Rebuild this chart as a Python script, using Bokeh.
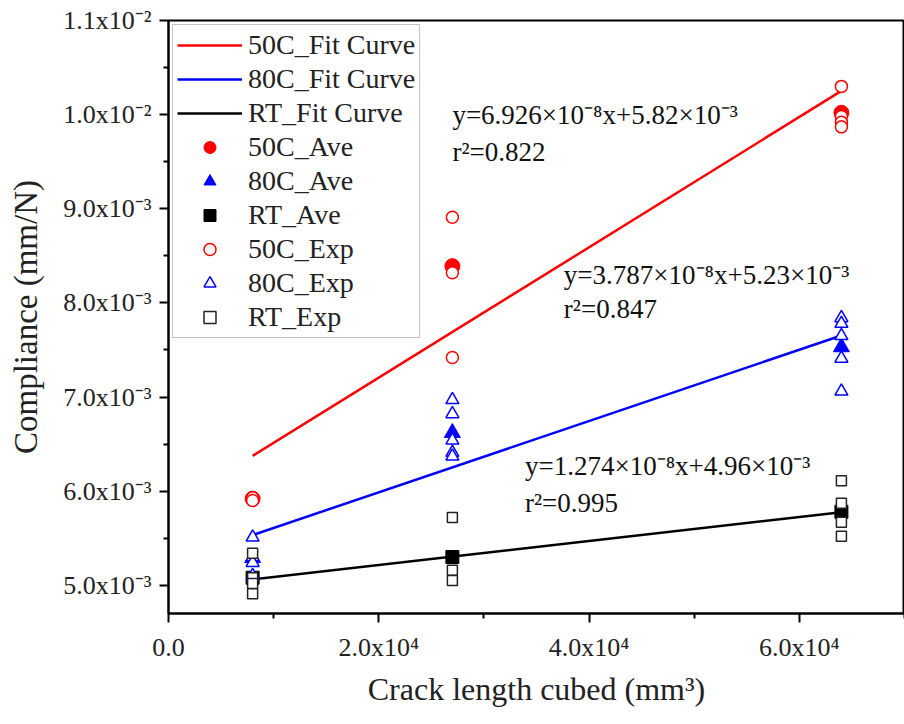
from bokeh.plotting import figure
from bokeh.models import FixedTicker, Legend, LegendItem
from bokeh.embed import file_html
from bokeh.resources import INLINE
from bokeh.core.properties import value

FONT = "Liberation Serif"

# crack length cubed (mm^3)
crack_x = [8000, 27000, 64000]

# averages (mm/N)
ave_50c = [5.92e-3, 8.39e-3, 10.02e-3]
ave_80c = [5.29e-3, 6.62e-3, 7.53e-3]
ave_rt = [5.08e-3, 5.30e-3, 5.78e-3]

# individual experiments
exp_50c_x = [8000, 8000, 27000, 27000, 27000, 64000, 64000, 64000, 64000]
exp_50c_y = [5.93e-3, 5.90e-3, 8.91e-3, 8.32e-3, 7.42e-3, 10.30e-3, 9.98e-3, 9.92e-3, 9.87e-3]
exp_80c_x = [8000, 8000, 8000, 8000, 27000, 27000, 27000, 27000, 27000, 64000, 64000, 64000, 64000, 64000]
exp_80c_y = [5.51e-3, 5.30e-3, 5.24e-3, 5.10e-3, 6.97e-3, 6.82e-3, 6.54e-3, 6.41e-3, 6.37e-3,
             7.84e-3, 7.78e-3, 7.65e-3, 7.41e-3, 7.06e-3]
exp_rt_x = [8000, 8000, 8000, 8000, 27000, 27000, 27000, 64000, 64000, 64000, 64000]
exp_rt_y = [5.34e-3, 5.08e-3, 5.02e-3, 4.91e-3, 5.72e-3, 5.16e-3, 5.05e-3, 6.11e-3, 5.87e-3, 5.67e-3, 5.52e-3]

# linear fits
fit_x = [8000, 64000]
fit_50c = (6.926e-8, 5.82e-3)
fit_80c = (3.787e-8, 5.23e-3)
fit_rt = (1.274e-8, 4.96e-3)

eq_texts = ["y=6.926×10⁻⁸x+5.82×10⁻³", "y=3.787×10⁻⁸x+5.23×10⁻³", "y=1.274×10⁻⁸x+4.96×10⁻³"]
r2_texts = ["r²=0.822", "r²=0.847", "r²=0.995"]

y_ticks = [5e-3, 6e-3, 7e-3, 8e-3, 9e-3, 1.0e-2, 1.1e-2]
y_minor = [5.5e-3, 6.5e-3, 7.5e-3, 8.5e-3, 9.5e-3, 10.5e-3]
y_tick_labels = ["5.0x10⁻³", "6.0x10⁻³", "7.0x10⁻³", "8.0x10⁻³", "9.0x10⁻³", "1.0x10⁻²", "1.1x10⁻²"]
x_ticks = [0, 20000, 40000, 60000]
x_minor = [10000, 30000, 50000, 70000]
x_tick_labels = ["0.0", "2.0x10⁴", "4.0x10⁴", "6.0x10⁴"]

p = figure(width=904, height=724, output_backend="svg", toolbar_location=None,
           x_range=(0, 70000), y_range=(4.7e-3, 1.1e-2),
           min_border_left=168, min_border_right=0, min_border_top=20, min_border_bottom=111)
p.background_fill_color = "white"
p.border_fill_color = "white"
p.grid.visible = False
p.outline_line_color = "black"
p.outline_line_width = 2

def line_fit(coef):
    return [coef[0] * x + coef[1] for x in fit_x]

l50 = p.line(fit_x, line_fit(fit_50c), line_color="#ff0000", line_width=2.5)
l80 = p.line(fit_x, line_fit(fit_80c), line_color="#0000ff", line_width=2.5)
lrt = p.line(fit_x, line_fit(fit_rt), line_color="black", line_width=2.5)

a50 = p.scatter(crack_x, ave_50c, marker="circle", size=15, fill_color="#ff0000", line_color="#ff0000")
a80 = p.scatter(crack_x, ave_80c, marker="triangle", size=16, fill_color="#0000ff", line_color="#0000ff")
art = p.scatter(crack_x, ave_rt, marker="square", size=13, fill_color="black", line_color="black")

e50 = p.scatter(exp_50c_x, exp_50c_y, marker="circle", size=12, fill_color="white",
                line_color="#ff0000", line_width=1.5)
e80 = p.scatter(exp_80c_x, exp_80c_y, marker="triangle", size=13, fill_color="white",
                line_color="#0000ff", line_width=1.5)
ert = p.scatter(exp_rt_x, exp_rt_y, marker="square", size=10, fill_color="white",
                line_color="#222222", line_width=1.5)

# annotations
eq_x = [27000, 37600, 33900]
eq_y = [10.0e-3, 8.30e-3, 6.27e-3]
r2_y = [9.60e-3, 7.93e-3, 5.87e-3]
p.text(x=eq_x, y=eq_y, text=eq_texts, text_font=value(FONT), text_font_size="27px",
       text_baseline="middle", text_align="left", text_color="#111111")
p.text(x=eq_x, y=r2_y, text=r2_texts, text_font=value(FONT), text_font_size="27px",
       text_baseline="middle", text_align="left", text_color="#111111")

legend = Legend(items=[
    LegendItem(label="50C_Fit Curve", renderers=[l50]),
    LegendItem(label="80C_Fit Curve", renderers=[l80]),
    LegendItem(label="RT_Fit Curve", renderers=[lrt]),
    LegendItem(label="50C_Ave", renderers=[a50]),
    LegendItem(label="80C_Ave", renderers=[a80]),
    LegendItem(label="RT_Ave", renderers=[art]),
    LegendItem(label="50C_Exp", renderers=[e50]),
    LegendItem(label="80C_Exp", renderers=[e80]),
    LegendItem(label="RT_Exp", renderers=[ert]),
], location="top_left")
legend.label_text_font = FONT
legend.label_text_font_size = "28px"
legend.label_text_color = "#222222"
legend.glyph_width = 65
legend.glyph_height = 30
legend.label_height = 30
legend.spacing = 2
legend.padding = 4
legend.margin = 4
legend.label_standoff = 6
legend.border_line_color = "#888888"
legend.border_line_width = 1
legend.background_fill_alpha = 1
p.add_layout(legend)

for ax in (p.xaxis[0], p.yaxis[0]):
    ax.axis_line_width = 2
    ax.axis_line_color = "black"
    ax.major_tick_line_width = 2
    ax.minor_tick_line_width = 2
    ax.major_tick_out = 9
    ax.major_tick_in = 0
    ax.minor_tick_out = 5
    ax.minor_tick_in = 0
    ax.major_label_text_font = FONT
    ax.major_label_text_font_size = "26px"
    ax.major_label_text_color = "#222222"
    ax.axis_label_text_font = FONT
    ax.axis_label_text_font_style = "normal"
    ax.axis_label_text_color = "#222222"

p.xaxis[0].axis_label_text_font_size = "32px"
p.yaxis[0].axis_label_text_font_size = "33px"
p.yaxis[0].ticker = FixedTicker(ticks=y_ticks, minor_ticks=y_minor)
p.yaxis[0].major_label_overrides = dict(zip(y_ticks, y_tick_labels))
p.xaxis[0].ticker = FixedTicker(ticks=x_ticks, minor_ticks=x_minor)
p.xaxis[0].major_label_overrides = dict(zip(x_ticks, x_tick_labels))
p.xaxis[0].axis_label = "Crack length cubed (mm³)"
p.yaxis[0].axis_label = "Compliance (mm/N)"
p.xaxis[0].major_label_standoff = 10
p.yaxis[0].major_label_standoff = 8
p.xaxis[0].axis_label_standoff = 6
p.yaxis[0].axis_label_standoff = 16

open("out.html", "w").write(file_html(p, INLINE))
